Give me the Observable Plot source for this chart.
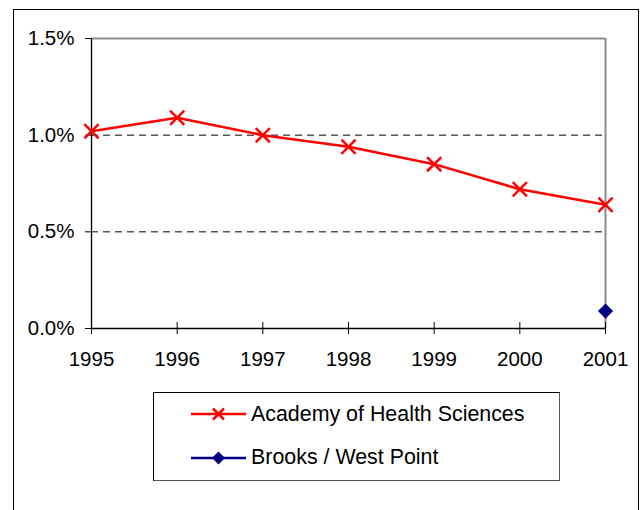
<!DOCTYPE html>
<html><head><meta charset="utf-8">
<script src="https://cdn.jsdelivr.net/npm/d3@7"></script>
<script src="https://cdn.jsdelivr.net/npm/@observablehq/plot@0.6"></script>
<style>
body{margin:0;background:#fff;font-family:"Liberation Sans",Arial,sans-serif;}
#wrap{position:relative;width:644px;height:510px;overflow:hidden;background:#fff;}
#chart{position:absolute;left:0;top:0;}
#frame{position:absolute;left:13px;top:9px;width:626px;height:540px;border:1px solid #000;box-sizing:border-box;pointer-events:none;}
#legend{position:absolute;left:153px;top:392px;width:407px;height:89px;box-sizing:border-box;border:1px solid #000;border-right-color:#555;border-bottom-color:#555;background:#fff;}
.item{position:absolute;left:37px;height:24px;display:flex;align-items:center;font-size:21.4px;color:#000;white-space:nowrap;}
.item svg{margin-right:5px;}
</style></head>
<body><div id="wrap"><div id="chart"></div><div id="frame"></div><div id="legend"></div></div>
<script>
const years = [1995, 1996, 1997, 1998, 1999, 2000, 2001];
const academyValues = [1.02, 1.09, 1.00, 0.94, 0.85, 0.72, 0.64];
const brooksYears = [2001];
const brooksValues = [0.09];
const yTicks = [0, 0.5, 1.0, 1.5];
const gridTicks = [0.5, 1.0];
const seriesNames = ["Academy of Health Sciences", "Brooks / West Point"];
const seriesColors = ["#ff0000", "#000080"];

const academy = years.map((y, i) => ({year: y, value: academyValues[i]}));
const brooks = brooksYears.map((y, i) => ({year: y, value: brooksValues[i]}));
const xMin = d3.min(years), xMax = d3.max(years);
const yMax = d3.max(yTicks);

const chart = Plot.plot({
  width: 644,
  height: 380,
  marginLeft: 91,
  marginRight: 39,
  marginTop: 38,
  marginBottom: 52,
  style: {fontSize: "20.5px", fontFamily: "'Liberation Sans', Arial, sans-serif", color: "#000", background: "transparent"},
  x: {domain: [xMin, xMax], label: null},
  y: {domain: [0, yMax], label: null},
  marks: [
    Plot.gridY(gridTicks, {stroke: "#000", strokeOpacity: 1, strokeWidth: 1, strokeDasharray: "7,5"}),
    Plot.ruleY([yMax], {stroke: "#8c8c8c", strokeWidth: 2}),
    Plot.ruleX([xMax], {stroke: "#8c8c8c", strokeWidth: 2}),
    Plot.axisY({ticks: yTicks, tickSize: 6, tickPadding: 11, tickFormat: d => d.toFixed(1) + "%", label: null}),
    Plot.axisX({ticks: years, tickSize: 12, dy: -6, tickPadding: 17, tickFormat: "d", label: null}),
    Plot.ruleX([xMin], {stroke: "#000", strokeWidth: 1.3}),
    Plot.ruleY([0], {stroke: "#000", strokeWidth: 1.3}),
    Plot.line(academy, {x: "year", y: "value", stroke: seriesColors[0], strokeWidth: 2.5}),
    Plot.dot(academy, {x: "year", y: "value", symbol: "times", r: 6.5, stroke: seriesColors[0], strokeWidth: 2.5}),
    Plot.dot(brooks, {x: "year", y: "value", symbol: "diamond2", r: 6.8, fill: seriesColors[1], stroke: "none"})
  ]
});
document.getElementById("chart").appendChild(chart);

// Legend
const legend = d3.select("#legend");
const rowTops = [9, 52.5];
seriesNames.forEach((name, i) => {
  const item = legend.append("div").attr("class", "item").style("top", rowTops[i] + "px");
  const svg = item.append("svg").attr("width", 55).attr("height", 24);
  svg.append("line").attr("x1", 0).attr("x2", 55).attr("y1", 12).attr("y2", 12)
    .attr("stroke", seriesColors[i]).attr("stroke-width", 2.5);
  if (i === 0) {
    svg.append("path").attr("d", "M22,6.5L33,17.5M33,6.5L22,17.5")
      .attr("stroke", seriesColors[i]).attr("stroke-width", 2.5).attr("fill", "none");
  } else {
    svg.append("path").attr("d", "M27.5,5.5L34,12L27.5,18.5L21,12Z").attr("fill", seriesColors[i]);
  }
  item.append("span").text(name);
});
</script>
</body></html>
